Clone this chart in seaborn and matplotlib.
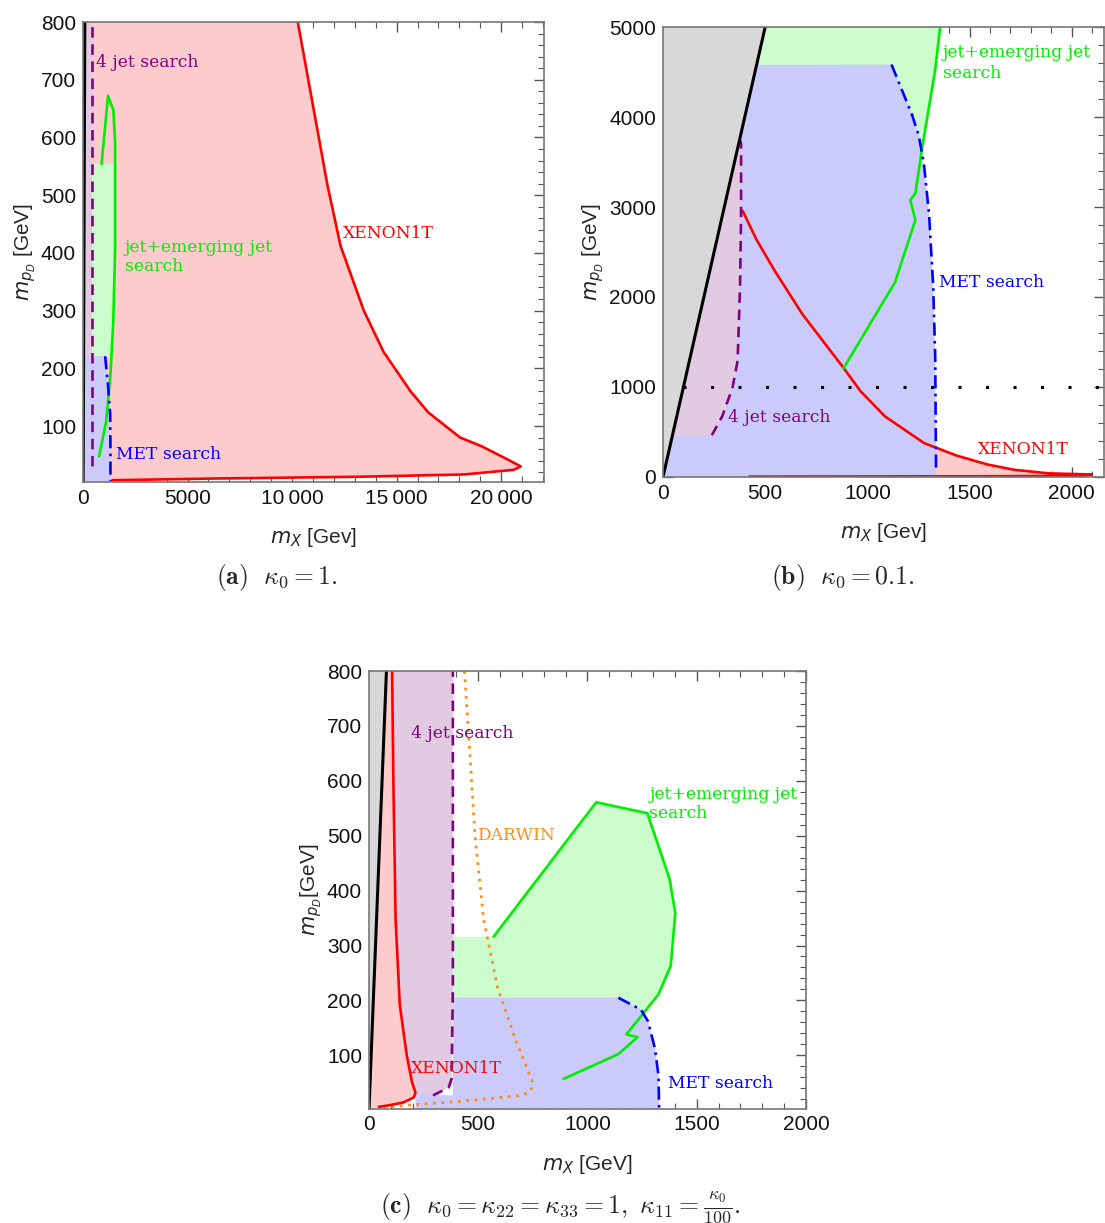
import numpy as np
import pandas as pd
import matplotlib
matplotlib.use("Agg")
import matplotlib.pyplot as plt
from matplotlib.ticker import MultipleLocator
import seaborn as sns

sns.set_style("ticks")
plt.rcParams['font.family'] = ['Liberation Sans', 'DejaVu Sans']

# colours
RED, GREEN, BLUE, PURPLE, ORANGE = "#ff0000", "#00ee00", "#0000ff", "#800080", "#ff8c1a"
F_RED, F_GREEN, F_BLUE, F_PURPLE, F_GRAY = "#fdcbcb", "#ccfccc", "#cbcbfb", "#e2cbe2", "#d8d8d8"

# ---------------- panel (a): kappa0 = 1 ----------------
a_xenon_x = [10273, 11007, 11689, 12321, 13430, 14369, 15649, 16502, 18038, 19061, 20256, 20939, 20597, 18208, 13089, 6263, 1400]
a_xenon_y = [800, 654, 518, 412, 300, 229, 161, 124, 80, 65, 43, 30, 24, 16, 12, 9, 6]
a_jet_x = [768, 1109, 1314, 1450, 1536, 1536, 1450, 1195, 1024, 887]
a_jet_y = [47, 108, 189, 282, 406, 592, 648, 672, 605, 554]
a_met_x = [1060, 1200, 1300, 1314, 1314]
a_met_y = [221, 170, 120, 60, 5]
a_4jet_x = [430, 430]
a_4jet_y = [30, 800]

# ---------------- panel (b): kappa0 = 0.1 ----------------
b_xenon_x = [390, 457, 549, 683, 884, 967, 1085, 1277, 1436, 1587, 1720, 1888, 2097, 2055, 1553, 423]
b_xenon_y = [2956, 2639, 2282, 1806, 1210, 952, 675, 377, 238, 139, 79, 40, 28, 12, 8, 4]
b_jet_x = [1356, 1332, 1269, 1235, 1210, 1235, 1135, 884]
b_jet_y = [5000, 4524, 3671, 3155, 3075, 2857, 2163, 1210]
b_met_x = [1118, 1218, 1252, 1277, 1302, 1322, 1332, 1336]
b_met_y = [4583, 4028, 3790, 3472, 2917, 2123, 1329, 60]
b_4jet_x = [239, 290, 340, 365, 377, 382, 382, 375]
b_4jet_y = [464, 675, 992, 1290, 2123, 2917, 3710, 3750]
b_line_y = 1000

# ---------------- panel (c) ----------------
c_xenon_x = [45, 93, 157, 205, 213, 197, 173, 141, 122, 112, 106]
c_xenon_y = [6, 9, 14, 23, 32, 51, 100, 192, 347, 593, 800]
c_darwin_x = [437, 461, 485, 525, 589, 669, 749, 741, 701, 445, 205, 45]
c_darwin_y = [800, 655, 501, 347, 223, 131, 51, 35, 27, 17, 10, 4]
c_jet_x = [890, 1141, 1229, 1178, 1325, 1381, 1402, 1376, 1274, 1040, 570]
c_jet_y = [57, 102, 133, 138, 211, 263, 359, 421, 541, 561, 316]
c_met_x = [1141, 1245, 1277, 1309, 1325, 1328]
c_met_y = [205, 183, 162, 112, 63, 3]
c_4jet_x = [293, 365, 378, 384, 384]
c_4jet_y = [27, 41, 57, 223, 800]

fig = plt.figure(figsize=(11.05, 12.23), dpi=100)
axA = fig.add_axes([0.0751, 0.6059, 0.4172, 0.3761])
axB = fig.add_axes([0.6000, 0.6100, 0.3995, 0.3679])
axC = fig.add_axes([0.3339, 0.0936, 0.3955, 0.3577])

LW = 1.9
TXT = dict(family='DejaVu Serif', fontsize=12.3, ha='left', va='center')


def curve(ax, xs, ys, color, ls='-', lw=LW):
    df = pd.DataFrame({"x": xs, "y": ys})
    sns.lineplot(data=df, x="x", y="y", sort=False, estimator=None, ax=ax,
                 color=color, linestyle=ls, linewidth=lw)


def style(ax, xlim, ylim, xmin, ymin, xticks, xlabels, yticks, ylabels, xunit):
    ax.set_xlim(*xlim)
    ax.set_ylim(*ylim)
    ax.set_xticks(xticks)
    ax.set_xticklabels(xlabels)
    ax.set_yticks(yticks)
    ax.set_yticklabels(ylabels)
    ax.xaxis.set_minor_locator(MultipleLocator(xmin))
    ax.yaxis.set_minor_locator(MultipleLocator(ymin))
    ax.tick_params(which='both', direction='in', top=True, right=True, color='#555555',
                   labelsize=15, labelcolor='#111111', pad=5)
    ax.tick_params(which='major', length=7, width=1)
    ax.tick_params(which='minor', length=4, width=0.8)
    for s in ax.spines.values():
        s.set_color('#777777')
        s.set_linewidth(1.2)
    ax.set_xlabel(r"$m_X$ [" + xunit + "]", fontsize=15, labelpad=13)
    ax.set_ylabel(r"$m_{p_D}$ [GeV]", fontsize=15, labelpad=2)


# ---- panel a ----
ax = axA
ax.fill(a_xenon_x + [0, 0], a_xenon_y + [6, 800], color=F_RED, lw=0)
ax.fill([430, 1360, 1450, 1536, 1536, 430], [220, 220, 282, 406, 554, 554], color=F_GREEN, lw=0)
ax.fill([0] + a_met_x + [0], [221] + a_met_y[:-1] + [3, 3], color=F_BLUE, lw=0)
ax.fill([0, 430, 430, 80], [221, 221, 800, 800], color=F_PURPLE, lw=0)
ax.fill([0, 80, 0], [0, 800, 800], color=F_GRAY, lw=0)
curve(ax, a_xenon_x, a_xenon_y, RED)
curve(ax, a_jet_x, a_jet_y, GREEN)
curve(ax, a_met_x, a_met_y, BLUE, ls=(0, (5, 2, 1, 2)))
curve(ax, a_4jet_x, a_4jet_y, PURPLE, ls=(0, (4, 2.5)))
curve(ax, [0, 80], [0, 800], 'black', lw=2.4)
ax.text(640, 730, "4 jet search", color=PURPLE, **TXT)
ax.text(2000, 410, "jet+emerging jet", color=GREEN, **TXT)
ax.text(2000, 376, "search", color=GREEN, **TXT)
ax.text(12450, 433, "XENON1T", color=RED, **TXT)
ax.text(1560, 50, "MET search", color=BLUE, **TXT)
style(ax, (0, 22050), (3, 800), 1000, 20,
      [0, 5000, 10000, 15000, 20000], ["0", "5000", "10\u2009000", "15\u2009000", "20\u2009000"],
      list(range(100, 801, 100)), [str(v) for v in range(100, 801, 100)], "Gev")

# ---- panel b ----
ax = axB
ax.fill([458, 500, 1356, 1332, 1269, 1118, 458], [4580, 5000, 5000, 4524, 3671, 3671, 3671], color=F_GREEN, lw=0)
ax.fill(b_xenon_x + [390], b_xenon_y + [4], color=F_RED, lw=0)
ax.fill([0, 458] + b_met_x + [1336], [0, 4580] + b_met_y + [0], color=F_BLUE, lw=0)
ax.fill([46] + b_4jet_x[:-1] + [371], [464] + b_4jet_y[:-1] + [3710], color=F_PURPLE, lw=0)
ax.fill([0, 500, 0], [0, 5000, 5000], color=F_GRAY, lw=0)
curve(ax, [100, 2160], [b_line_y, b_line_y], 'black', ls=(0, (1, 8)), lw=2.2)
curve(ax, b_xenon_x, b_xenon_y, RED)
curve(ax, b_jet_x, b_jet_y, GREEN)
curve(ax, b_met_x, b_met_y, BLUE, ls=(0, (5, 2, 1, 2)))
curve(ax, b_4jet_x, b_4jet_y, PURPLE, ls=(0, (4, 2.5)))
curve(ax, [0, 500], [0, 5000], 'black', lw=2.2)
ax.text(1370, 4722, "jet+emerging jet", color=GREEN, **TXT)
ax.text(1370, 4484, "search", color=GREEN, **TXT)
ax.text(1352, 2163, "MET search", color=BLUE, **TXT)
ax.text(318, 663, "4 jet search", color=PURPLE, **TXT)
ax.text(1540, 305, "XENON1T", color=RED, **TXT)
style(ax, (0, 2160), (0, 5000), 100, 200,
      [0, 500, 1000, 1500, 2000], ["0", "500", "1000", "1500", "2000"],
      list(range(0, 5001, 1000)), [str(v) for v in range(0, 5001, 1000)], "Gev")

# ---- panel c ----
ax = axC
ax.fill([0, 293, 365, 378, 384, 384, 0], [30, 27, 41, 57, 223, 800, 800], color=F_PURPLE, lw=0)
ax.fill(c_xenon_x + [80, 0], c_xenon_y + [800, 0], color=F_RED, lw=0)
ax.fill([384, 384, 570, 1040, 1274, 1376, 1402, 1381, 1325, 1258, 384],
        [205, 316, 316, 561, 541, 421, 359, 263, 211, 175, 175], color=F_GREEN, lw=0)
ax.fill([384] + c_met_x + [384], [205] + c_met_y + [3], color=F_BLUE, lw=0)
ax.fill([213, 384, 384, 213], [3, 3, 27, 30], color=F_BLUE, lw=0)
ax.fill([0, 80, 0], [0, 800, 800], color=F_GRAY, lw=0)
curve(ax, c_darwin_x, c_darwin_y, ORANGE, ls=(0, (1, 2)), lw=2.0)
curve(ax, c_xenon_x, c_xenon_y, RED)
curve(ax, c_jet_x, c_jet_y, GREEN)
curve(ax, c_met_x, c_met_y, BLUE, ls=(0, (5, 2, 1, 2)))
curve(ax, c_4jet_x, c_4jet_y, PURPLE, ls=(0, (4, 2.5)))
curve(ax, [0, 80], [0, 800], 'black', lw=2.2)
ax.text(192, 687, "4 jet search", color=PURPLE, **TXT)
ax.text(497, 500, "DARWIN", color=ORANGE, **TXT)
ax.text(1283, 576, "jet+emerging jet", color=GREEN, **TXT)
ax.text(1283, 540, "search", color=GREEN, **TXT)
ax.text(192, 76, "XENON1T", color=RED, **TXT)
ax.text(1368, 49, "MET search", color=BLUE, **TXT)
style(ax, (0, 2000), (3, 800), 100, 20,
      [0, 500, 1000, 1500, 2000], ["0", "500", "1000", "1500", "2000"],
      list(range(100, 801, 100)), [str(v) for v in range(100, 801, 100)], "GeV")
ax.set_ylabel(r"$m_{p_D}$[GeV]", fontsize=15, labelpad=2)

# captions
CAP = dict(fontsize=18.5, ha='center', va='center', math_fontfamily='cm')
fig.text(277 / 1105, 1 - 578 / 1223, r"$\mathbf{(a)}\ \ \kappa_0 = 1.$", **CAP)
fig.text(843 / 1105, 1 - 578 / 1223, r"$\mathbf{(b)}\ \ \kappa_0 = 0.1.$", **CAP)
fig.text(560 / 1105, 1 - 1207 / 1223,
         r"$\mathbf{(c)}\ \ \kappa_0 = \kappa_{22} = \kappa_{33} = 1,\ \kappa_{11} = \frac{\kappa_0}{100}.$", **CAP)

fig.savefig("out.png", dpi=100)
